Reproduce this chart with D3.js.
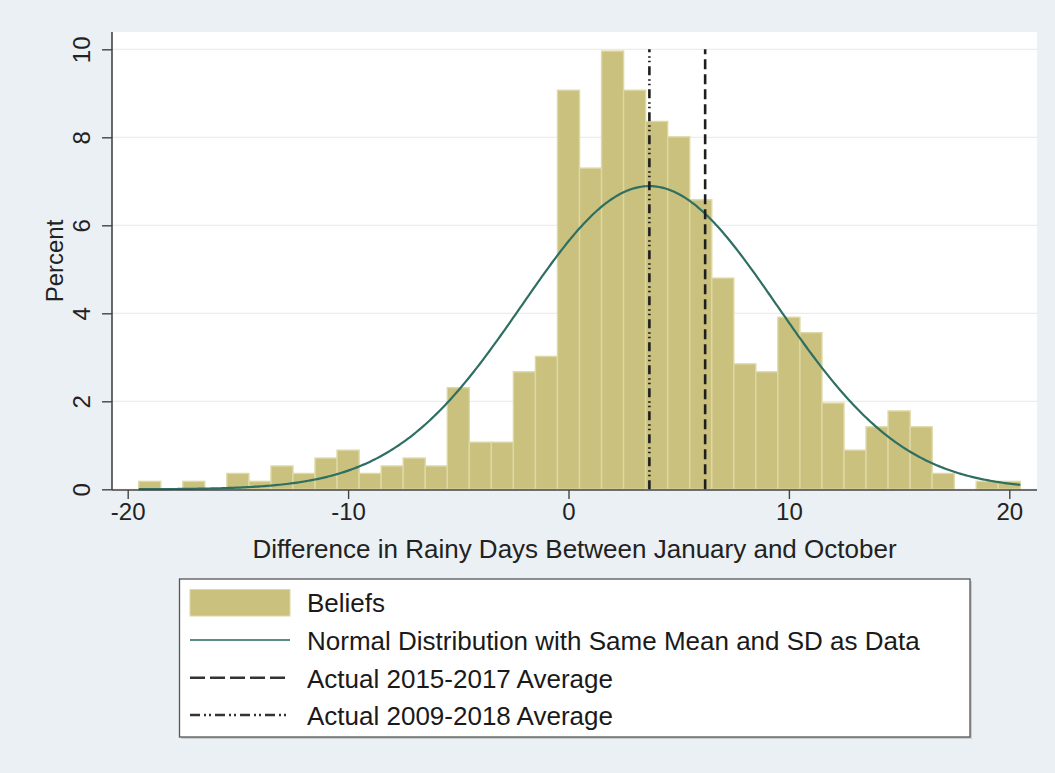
<!DOCTYPE html>
<html>
<head>
<meta charset="utf-8">
<script src="https://cdn.jsdelivr.net/npm/d3@7"></script>
<style>
  html, body { margin: 0; padding: 0; background: #eaf0f3; }
  svg { display: block; font-family: "Liberation Sans", Arial, sans-serif; }
</style>
</head>
<body>
<svg id="chart" width="1055" height="773"></svg>
<script>
// ---- data ----
const binCenters = [-19,-17,-15,-14,-13,-12,-11,-10,-9,-8,-7,-6,-5,-4,-3,-2,-1,0,1,2,3,4,5,6,7,8,9,10,11,12,13,14,15,16,17,19,20];
const beliefsPercent = [0.18,0.18,0.36,0.18,0.53,0.36,0.71,0.89,0.36,0.53,0.71,0.53,2.31,1.07,1.07,2.67,3.02,9.07,7.30,9.96,9.07,8.36,8.01,6.58,4.80,2.85,2.67,3.91,3.56,1.96,0.89,1.42,1.78,1.42,0.36,0.18,0.18];
const binWidth = 1;
const normalMean = 3.67;
const normalSD = 5.79;
const normalRange = [-19.5, 20.5];
const actual2015_2017 = 6.2;
const actual2009_2018 = 3.67;
const xTicks = [-20, -10, 0, 10, 20];
const yTicks = [0, 2, 4, 6, 8, 10];
const legendLabels = ["Beliefs", "Normal Distribution with Same Mean and SD as Data", "Actual 2015-2017 Average", "Actual 2009-2018 Average"];
const xTitle = "Difference in Rainy Days Between January and October";
const yTitle = "Percent";

// ---- layout ----
const svg = d3.select("#chart");
const plotLeft = 112, plotRight = 1037, plotTop = 32, plotBottom = 490;
const x = d3.scaleLinear().domain([-20, 20]).range([127.7, 1009.3]);
const y = d3.scaleLinear().domain([0, 10]).range([489.3, 49.3]);

const barFill = "#c9c17d", barStroke = "#ded8a6", curveColor = "#2f6f62", lineColor = "#1e1e1e";
const fontFam = "'Liberation Sans', Arial, sans-serif";

// background
svg.append("rect").attr("width", 1055).attr("height", 773).attr("fill", "#eaf0f3");
svg.append("rect").attr("x", plotLeft).attr("y", plotTop)
  .attr("width", plotRight - plotLeft).attr("height", plotBottom - plotTop).attr("fill", "#ffffff");

// grid
svg.append("g").selectAll("line").data(yTicks).join("line")
  .attr("x1", plotLeft).attr("x2", plotRight)
  .attr("y1", d => y(d)).attr("y2", d => y(d))
  .attr("stroke", "#ececec").attr("stroke-width", 1.2);

// bars
const bars = binCenters.map((c, i) => ({c, v: beliefsPercent[i]}));
svg.append("g").selectAll("rect").data(bars).join("rect")
  .attr("x", d => x(d.c - binWidth / 2))
  .attr("width", d => x(d.c + binWidth / 2) - x(d.c - binWidth / 2))
  .attr("y", d => y(d.v))
  .attr("height", d => y(0) - y(d.v))
  .attr("fill", barFill).attr("stroke", barStroke).attr("stroke-width", 1.4);

// normal curve
const pdf = t => 100 * binWidth / (normalSD * Math.sqrt(2 * Math.PI)) * Math.exp(-0.5 * ((t - normalMean) / normalSD) ** 2);
const curvePts = d3.range(normalRange[0], normalRange[1] + 0.001, 0.1).map(t => [t, pdf(t)]);
svg.append("path").datum(curvePts)
  .attr("d", d3.line().x(d => x(d[0])).y(d => y(d[1])))
  .attr("fill", "none").attr("stroke", curveColor).attr("stroke-width", 2.2);

// vertical reference lines
const dashPattern = "10,5";
const dashDotPattern = "9,4,1.5,3,1.5,4";
svg.append("line").attr("x1", x(actual2015_2017)).attr("x2", x(actual2015_2017))
  .attr("y1", y(0)).attr("y2", y(10))
  .attr("stroke", lineColor).attr("stroke-width", 2.6).attr("stroke-dasharray", dashPattern);
svg.append("line").attr("x1", x(actual2009_2018)).attr("x2", x(actual2009_2018))
  .attr("y1", y(0)).attr("y2", y(10))
  .attr("stroke", lineColor).attr("stroke-width", 2.6).attr("stroke-dasharray", dashDotPattern);

// axes
const axisColor = "#444";
const xAxis = svg.append("g").attr("transform", `translate(0,${plotBottom})`)
  .call(d3.axisBottom(x).tickValues(xTicks).tickSize(9).tickPadding(5).tickFormat(d => String(d)));
xAxis.select(".domain").attr("d", `M${plotLeft},0H${plotRight}`).attr("stroke", axisColor).attr("stroke-width", 1.6);
xAxis.selectAll(".tick line").attr("stroke", axisColor).attr("stroke-width", 1.4);
xAxis.selectAll(".tick text").attr("font-size", 24).attr("fill", "#222")
  .attr("font-family", fontFam).attr("dy", null).attr("y", 30);

const yAxis = svg.append("g").attr("transform", `translate(${plotLeft},0)`)
  .call(d3.axisLeft(y).tickValues(yTicks).tickSize(10).tickFormat(d => String(d)));
yAxis.select(".domain").attr("d", `M0,${plotTop}V${plotBottom}`).attr("stroke", axisColor).attr("stroke-width", 1.6);
yAxis.selectAll(".tick line").attr("stroke", axisColor).attr("stroke-width", 1.4);
yAxis.selectAll(".tick text")
  .attr("font-size", 24).attr("fill", "#222")
  .attr("font-family", fontFam)
  .attr("x", null).attr("dy", null)
  .attr("text-anchor", "middle")
  .attr("transform", "translate(-22,0) rotate(-90)");

// axis titles
svg.append("text").attr("x", 574.5).attr("y", 558).attr("text-anchor", "middle")
  .attr("font-size", 26).attr("fill", "#222").text(xTitle);
svg.append("text").attr("transform", "translate(63,261) rotate(-90)").attr("text-anchor", "middle")
  .attr("font-size", 24).attr("fill", "#222").text(yTitle);

// legend
const lg = svg.append("g");
lg.append("rect").attr("x", 181).attr("y", 581).attr("width", 791).attr("height", 158).attr("fill", "#c8cdd0");
lg.append("rect").attr("x", 179.5).attr("y", 579).attr("width", 790.5).attr("height", 158)
  .attr("fill", "#ffffff").attr("stroke", "#555").attr("stroke-width", 1.3);
const rowY = [602.7, 640, 677.7, 715];
const baseY = [611.7, 650, 687.7, 725];
lg.append("rect").attr("x", 190).attr("y", 589.5).attr("width", 100).attr("height", 26.5)
  .attr("fill", barFill).attr("stroke", barStroke).attr("stroke-width", 1);
lg.append("line").attr("x1", 190).attr("x2", 290).attr("y1", rowY[1]).attr("y2", rowY[1])
  .attr("stroke", "#5b8c84").attr("stroke-width", 2);
lg.append("line").attr("x1", 190).attr("x2", 290).attr("y1", rowY[2]).attr("y2", rowY[2])
  .attr("stroke", "#333").attr("stroke-width", 2.4).attr("stroke-dasharray", "15,5");
lg.append("line").attr("x1", 190).attr("x2", 290).attr("y1", rowY[3]).attr("y2", rowY[3])
  .attr("stroke", "#333").attr("stroke-width", 2.4).attr("stroke-dasharray", "10,4,2,3,2,4");
lg.selectAll("text.lab").data(legendLabels).join("text").attr("class", "lab")
  .attr("x", 307).attr("y", (d, i) => baseY[i])
  .attr("font-size", 26).attr("fill", "#1a1a1a").text(d => d);
</script>
</body>
</html>
